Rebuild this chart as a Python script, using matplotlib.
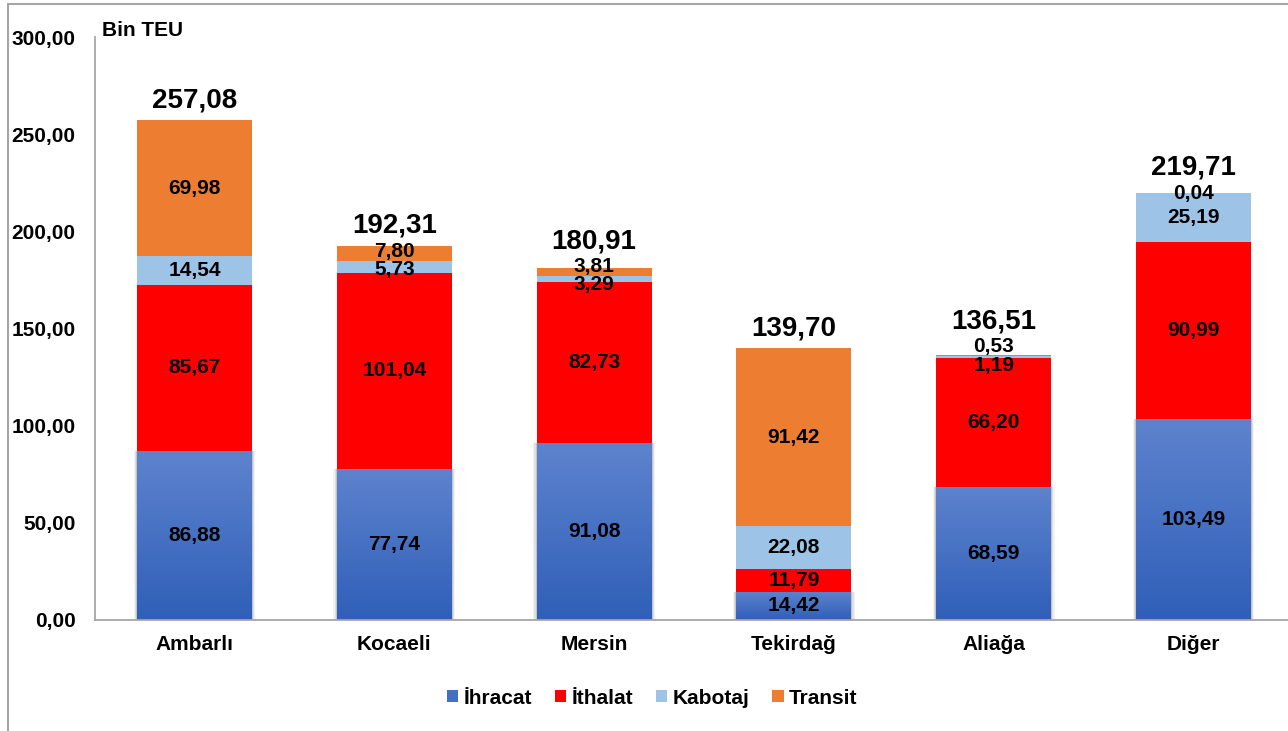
import numpy as np
import matplotlib.pyplot as plt
from matplotlib.patches import Patch, Rectangle
from matplotlib.colors import LinearSegmentedColormap

plt.rcParams['font.family'] = ['Liberation Sans', 'DejaVu Sans']
plt.rcParams['font.weight'] = 'bold'

# Veriler (Bin TEU)
limanlar = ['Ambarlı', 'Kocaeli', 'Mersin', 'Tekirdağ', 'Aliağa', 'Diğer']
ihracat = [86.88, 77.74, 91.08, 14.42, 68.59, 103.49]
ithalat = [85.67, 101.04, 82.73, 11.79, 66.20, 90.99]
kabotaj = [14.54, 5.73, 3.29, 22.08, 1.19, 25.19]
transit = [69.98, 7.80, 3.81, 91.42, 0.53, 0.04]
toplam = [257.08, 192.31, 180.91, 139.70, 136.51, 219.71]
seri_adlari = ['İhracat', 'İthalat', 'Kabotaj', 'Transit']
yticks = [0, 50, 100, 150, 200, 250, 300]

renkler = ['#4470C4', '#FF0000', '#9DC3E6', '#ED7D31']
mavi_cmap = LinearSegmentedColormap.from_list('mavi', ['#2F5FB8', '#5E83CE'])


def tr(v):
    return f'{v:.2f}'.replace('.', ',')


W, H = 1288, 731
fig = plt.figure(figsize=(W / 100, H / 100), dpi=100)
ax = fig.add_axes([95 / W, 1 - 620 / H, 1 - 95 / W, (620 - 37) / H])

x = np.arange(len(limanlar))
genislik = 0.575
seriler = [ihracat, ithalat, kabotaj, transit]
alt = np.zeros(len(limanlar))
konteynerler = []
for ad, deger, renk in zip(seri_adlari, seriler, renkler):
    b = ax.bar(x, deger, genislik, bottom=alt, color=renk, label=ad, zorder=2)
    konteynerler.append((b, np.array(deger), alt.copy()))
    alt = alt + np.array(deger)

# mavi çubuklara hafif gölge
for ek, a in [(0.035, 0.05), (0.022, 0.08), (0.011, 0.12)]:
    ax.bar(x, ihracat, genislik + ek, bottom=-ek * 4, color='black',
           alpha=a, linewidth=0, zorder=1.5)

# mavi çubuklara dikey gradyan
for p in konteynerler[0][0].patches:
    x0, y0 = p.get_x(), p.get_y()
    im = ax.imshow(np.linspace(1, 0, 256).reshape(-1, 1), cmap=mavi_cmap,
                   extent=[x0, x0 + p.get_width(), y0, y0 + p.get_height()],
                   aspect='auto', zorder=2.5, interpolation='bicubic')
    im.set_clip_path(p)

ax.set_xlim(-0.498, 5.473)
ax.set_ylim(0, 300)

# segment etiketleri (küçük dilimlerde üst üste binmeyi önle)
min_aralik = 9.5
for i in range(len(limanlar)):
    merkezler = [b0[i] + d[i] / 2 for (_, d, b0) in konteynerler]
    for k in range(len(merkezler) - 1, 0, -1):
        if merkezler[k] - merkezler[k - 1] < min_aralik:
            orta = (merkezler[k] + merkezler[k - 1]) / 2
            merkezler[k] = orta + min_aralik / 2
            merkezler[k - 1] = orta - min_aralik / 2
    for (_, d, _), m in zip(konteynerler, merkezler):
        ax.text(x[i], m, tr(d[i]), ha='center', va='center',
                fontsize=15, color='black', zorder=5)
    ust = max(toplam[i] + 10.3, merkezler[-1] + 13)
    ax.text(x[i], ust, tr(toplam[i]), ha='center', va='center',
            fontsize=20, color='black', zorder=5)

ax.set_xticks(x)
ax.set_xticklabels(limanlar, fontsize=15)
ax.set_yticks(yticks)
ax.set_yticklabels([tr(v) for v in yticks], fontsize=15)
ax.tick_params(axis='y', length=0, pad=14)
ax.tick_params(axis='x', length=0, pad=11)
for s in ['top', 'right']:
    ax.spines[s].set_visible(False)
for s in ['left', 'bottom']:
    ax.spines[s].set_color('#A6A6A6')
    ax.spines[s].set_linewidth(1.3)
    ax.spines[s].set_zorder(3)

fig.text(102 / W, 1 - 30 / H, 'Bin TEU', fontsize=15, ha='left', va='center')

tutamaclar = [Patch(facecolor=c, label=a) for a, c in zip(seri_adlari, renkler)]
fig.legend(handles=tutamaclar, loc='center', bbox_to_anchor=(652 / W, 1 - 698 / H),
           ncol=4, frameon=False, fontsize=15, handlelength=0.55, handleheight=0.55,
           handletextpad=0.25, columnspacing=1.1)

fig.add_artist(Rectangle((8 / W, -0.1), 2, 1.1 - 4 / H, transform=fig.transFigure,
                         fill=False, edgecolor='#A6A6A6', linewidth=1.5))

fig.savefig('out.png', dpi=100)
